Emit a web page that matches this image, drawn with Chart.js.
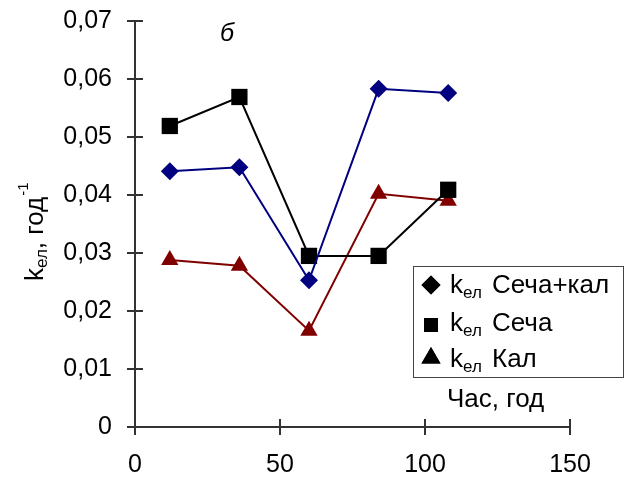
<!DOCTYPE html>
<html>
<head>
<meta charset="utf-8">
<script src="https://cdn.jsdelivr.net/npm/chart.js@4.4.1/dist/chart.umd.min.js"></script>
<style>
  html, body { margin: 0; padding: 0; background: #fff; }
  #wrap { width: 626px; height: 480px; position: relative; }
</style>
</head>
<body>
<div id="wrap"><canvas id="chart"></canvas></div>
<script>
// Hours of sampling (x) and elimination constants per series (y)
const hours = [12, 36, 60, 84, 108];
const kSechaKal = [0.0441, 0.0448, 0.0253, 0.0583, 0.0576];
const kSecha    = [0.0519, 0.0569, 0.0295, 0.0295, 0.0409];
const kKal      = [0.0288, 0.0278, 0.0166, 0.0402, 0.0390];

const seriesNames = ["Сеча+кал", "Сеча", "Кал"];
const xTicks = [0, 50, 100, 150];
const yTicks = [0, 0.01, 0.02, 0.03, 0.04, 0.05, 0.06, 0.07];

const FONT = "'Liberation Sans', Arial, sans-serif";
const C = {
  navy:  "#000080",
  black: "#000000",
  red:   "#800000",
  axis:  "#333333",
};

function pts(ys) {
  return hours.map((x, i) => ({ x, y: ys[i] }));
}

function fmtY(v) {
  return v === 0 ? "0" : v.toFixed(2).replace(".", ",");
}

// draws inner half of ticks, axis titles, panel letter and the legend
const decor = {
  id: "decor",
  afterDraw(chart) {
    const ctx = chart.ctx;
    const xs = chart.scales.x, ys = chart.scales.y;
    const ca = chart.chartArea;
    ctx.save();
    ctx.strokeStyle = C.axis;
    ctx.lineWidth = 2;
    ctx.beginPath();
    for (const v of yTicks) {
      const py = Math.round(ys.getPixelForValue(v));
      ctx.moveTo(ca.left, py); ctx.lineTo(ca.left + 8, py);
    }
    for (const v of xTicks) {
      const px = Math.round(xs.getPixelForValue(v));
      ctx.moveTo(px, ca.bottom); ctx.lineTo(px, ca.bottom - 8);
    }
    ctx.stroke();

    ctx.fillStyle = "#000";
    ctx.textBaseline = "alphabetic";

    // y title: k_ел, год^-1 (rotated)
    ctx.save();
    ctx.translate(43, 281);
    ctx.rotate(-Math.PI / 2);
    let x = 0;
    ctx.font = "26px " + FONT;
    ctx.fillText("k", x, 0); x += ctx.measureText("k").width;
    ctx.font = "17px " + FONT;
    ctx.fillText("ел", x, 4); x += ctx.measureText("ел").width;
    ctx.font = "26px " + FONT;
    ctx.fillText(", год", x, 0); x += ctx.measureText(", год").width;
    ctx.font = "15px " + FONT;
    ctx.fillText("-1", x + 1, -15);
    ctx.restore();

    // x title
    ctx.font = "26px " + FONT;
    ctx.fillText("Час, год", 447, 407);

    // panel letter
    ctx.font = "italic 25px " + FONT;
    ctx.fillText("б", 220, 41);

    // legend
    const lx = 413, ly = 266, lw = 210, lh = 111;
    ctx.fillStyle = "#fff";
    ctx.fillRect(lx, ly, lw, lh);
    ctx.strokeStyle = "#444";
    ctx.lineWidth = 1;
    ctx.strokeRect(lx + 0.5, ly + 0.5, lw, lh);
    const rows = [293, 331, 367];
    const markY = [285, 325, 358];
    const styles = ["rectRot", "rect", "triangle"];
    const radii = [9.5, 9.9, 11];
    rows.forEach((base, i) => {
      ctx.fillStyle = "#000";
      Chart.helpers.drawPoint(ctx, { pointStyle: styles[i], radius: radii[i], borderWidth: 0 }, 431, markY[i]);
      ctx.fill();
      let tx = 450;
      ctx.font = "26px " + FONT;
      ctx.fillText("k", tx, base); tx += ctx.measureText("k").width;
      ctx.font = "17px " + FONT;
      ctx.fillText("ел", tx, base + 5);
      ctx.font = "26px " + FONT;
      ctx.fillText(seriesNames[i], 492, base);
    });
    ctx.restore();
  },
};

function ds(label, ys, color, style, r) {
  return {
    label,
    data: pts(ys),
    showLine: true,
    borderColor: color,
    backgroundColor: color,
    borderWidth: 2,
    pointStyle: style,
    pointRadius: r,
    pointHoverRadius: r,
    pointBorderWidth: 0,
    tension: 0,
  };
}

new Chart(document.getElementById("chart"), {
  type: "scatter",
  data: {
    datasets: [
      ds(seriesNames[0], kSechaKal, C.navy, "rectRot", 9),
      ds(seriesNames[1], kSecha, C.black, "rect", 11.5),
      ds(seriesNames[2], kKal, C.red, "triangle", 10),
    ],
  },
  options: {
    responsive: true,
    maintainAspectRatio: false,
    animation: false,
    events: [],
    layout: { padding: { left: 63, right: 56, top: 21, bottom: 0 } },
    plugins: { legend: { display: false }, tooltip: { enabled: false } },
    scales: {
      x: {
        type: "linear",
        min: 0, max: 150,
        afterBuildTicks: (s) => { s.ticks = xTicks.map((v) => ({ value: v })); },
        afterFit: (s) => { s.height = 53; s.paddingLeft = 0; s.paddingRight = 0; },
        ticks: {
          color: "#000",
          font: { family: FONT, size: 25, lineHeight: 1 },
          padding: 18,
          maxRotation: 0,
        },
        grid: { drawOnChartArea: false, drawTicks: true, tickLength: 8, color: C.axis, lineWidth: 2 },
        border: { color: C.axis, width: 2 },
      },
      y: {
        type: "linear",
        min: 0, max: 0.07,
        afterBuildTicks: (s) => { s.ticks = yTicks.map((v) => ({ value: v })); },
        afterFit: (s) => { s.width = 72; s.paddingTop = 0; s.paddingBottom = 0; },
        ticks: {
          color: "#000",
          font: { family: FONT, size: 25, lineHeight: 1 },
          padding: 15,
          callback: (v) => fmtY(v),
        },
        grid: { drawOnChartArea: false, drawTicks: true, tickLength: 8, color: C.axis, lineWidth: 2 },
        border: { color: C.axis, width: 2 },
      },
    },
  },
  plugins: [decor],
});
</script>
</body>
</html>
